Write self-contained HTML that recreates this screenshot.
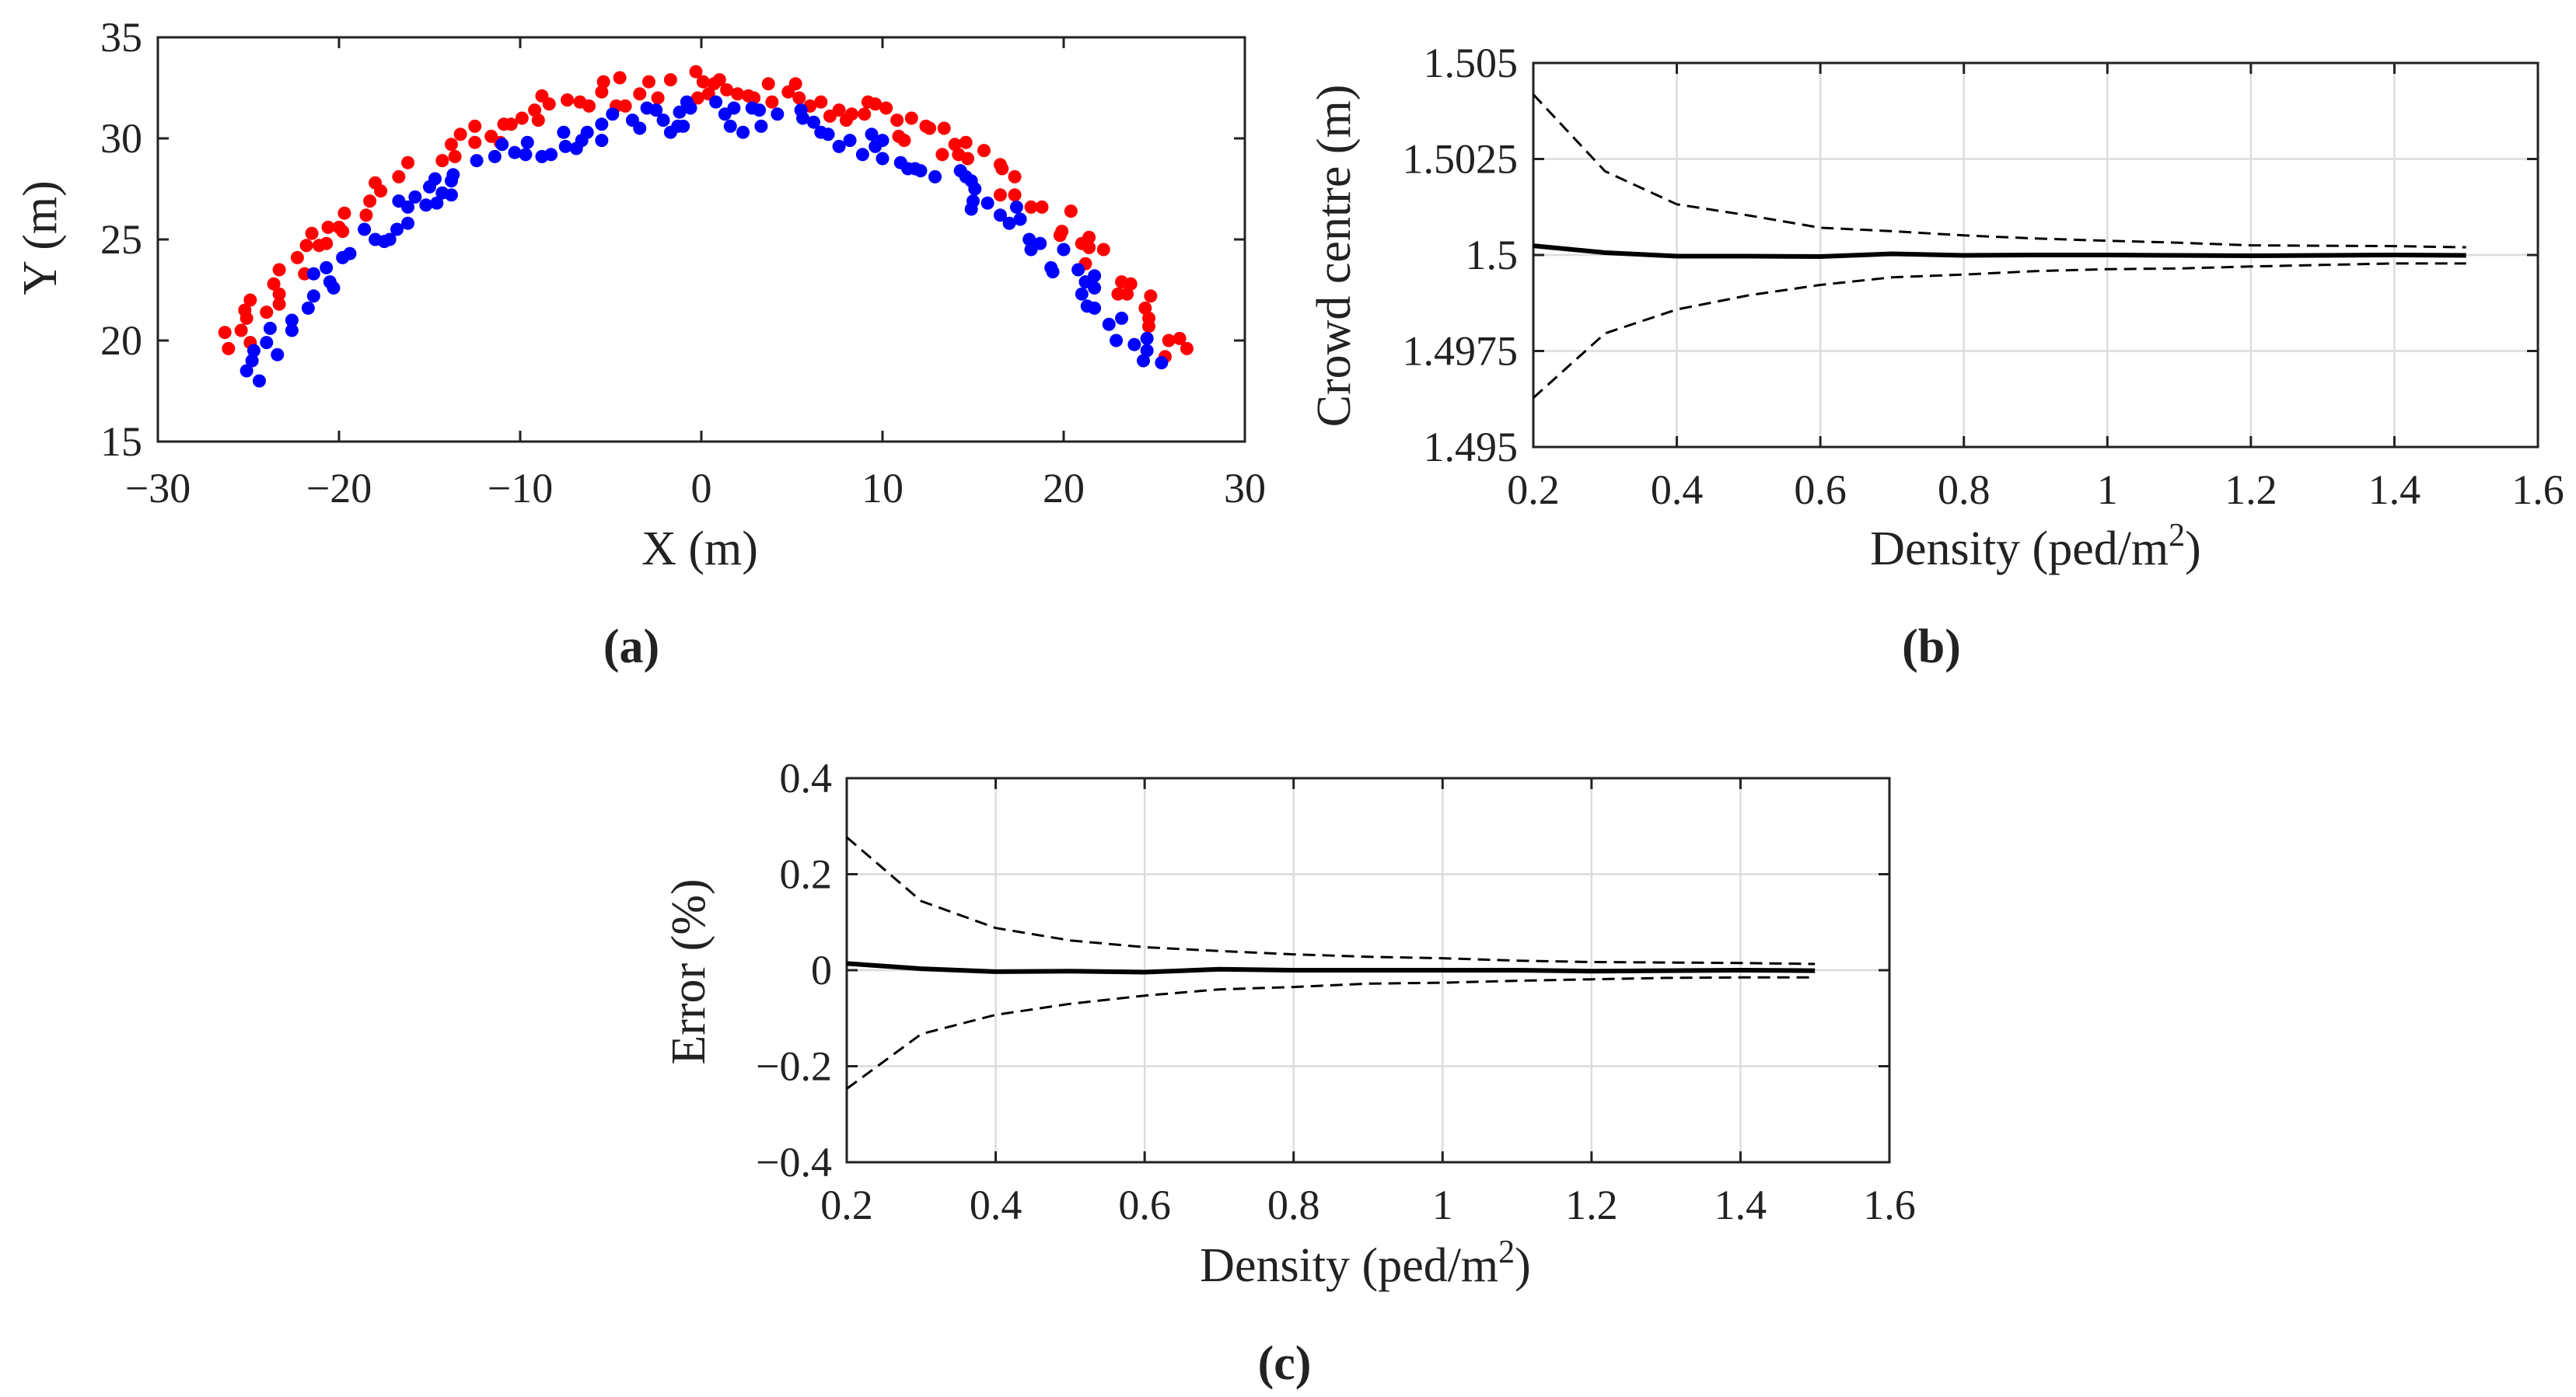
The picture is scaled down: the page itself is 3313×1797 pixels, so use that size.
<!DOCTYPE html>
<html><head><meta charset="utf-8"><style>
html,body{margin:0;padding:0;background:#fff;}
svg{display:block;}
svg text{font-family:"Liberation Serif","DejaVu Serif",serif;fill:#222;}
</style></head><body>
<svg id="fig" width="3313" height="1797" viewBox="0 0 3313 1797" xmlns="http://www.w3.org/2000/svg" font-family="Liberation Serif, DejaVu Serif, serif"></svg>
<script>
// ---- Panel (a) data ----
const redX=[-26.3,-26.1,-25.4,-25.2,-25.1,-24.9,-24.9,-24.0,-23.6,-23.3,-23.3,-23.3,-22.3,-21.9,-21.8,-21.5,-21.1,-20.7,-20.6,-20.0,-19.8,-19.7,-18.5,-18.3,-18.0,-17.7,-16.7,-16.2,-14.3,-13.8,-13.6,-13.3,-12.5,-12.5,-11.6,-11.1,-10.9,-10.5,-9.9,-9.2,-9.0,-8.8,-8.4,-7.4,-6.7,-6.2,-5.5,-5.4,-4.7,-4.5,-4.2,-3.4,-2.9,-2.4,-1.7,-0.3,-0.2,0.1,0.4,0.7,1.0,1.4,2.0,2.6,2.9,3.7,3.9,4.8,5.2,5.4,6.0,6.6,7.1,7.6,8.0,8.3,9.0,9.2,9.6,10.2,10.8,10.9,11.2,11.6,12.4,12.6,13.4,13.3,14.0,14.2,14.6,14.7,15.6,16.5,16.6,16.5,17.3,17.3,18.2,18.8,19.8,19.9,20.4,21.0,21.2,21.4,21.4,22.2,23.2,23.0,23.7,23.5,24.5,24.8,24.7,24.7,25.6,25.8,26.4,26.8];
const redY=[20.4,19.6,20.5,21.5,21.1,22.0,19.9,21.4,22.8,22.3,21.8,23.5,24.1,23.3,24.7,25.3,24.7,24.8,25.6,25.6,25.4,26.3,26.2,26.9,27.8,27.4,28.1,28.8,28.9,29.7,29.1,30.2,29.8,30.6,30.1,29.8,30.7,30.7,31.0,31.4,30.9,32.1,31.7,31.9,31.8,31.6,32.3,32.8,31.6,33.0,31.6,32.2,32.8,32.0,32.9,33.3,32.0,32.8,32.2,32.7,32.9,32.4,32.2,32.1,32.0,32.7,31.8,32.3,32.7,32.0,31.6,31.8,31.1,31.4,30.9,31.2,31.2,31.8,31.7,31.5,30.9,30.1,29.9,31.0,30.6,30.5,30.5,29.2,29.7,29.2,29.8,29.0,29.4,28.7,28.5,27.2,28.1,27.2,26.6,26.6,25.2,25.4,26.4,24.8,23.8,25.1,24.6,24.5,22.9,22.3,22.8,22.3,21.6,22.2,21.1,20.7,19.2,20.0,20.1,19.6];
const blueX=[-25.1,-24.8,-24.7,-24.4,-24.0,-23.8,-23.4,-22.6,-22.6,-21.7,-21.4,-21.4,-20.7,-20.5,-20.3,-19.8,-19.4,-18.6,-18.0,-17.5,-17.2,-16.8,-16.7,-16.2,-16.2,-15.8,-15.2,-15.0,-14.7,-14.6,-14.3,-13.8,-13.8,-13.7,-12.4,-11.4,-11.0,-10.3,-9.7,-9.6,-8.8,-8.3,-7.6,-7.5,-6.9,-6.6,-6.3,-5.5,-5.5,-4.9,-3.8,-3.4,-3.0,-2.5,-2.1,-1.7,-1.3,-1.0,-1.2,-0.8,-0.6,0.8,1.3,1.6,1.8,2.3,2.8,3.2,3.3,4.2,5.5,5.6,6.2,6.6,7.0,7.6,8.2,8.9,9.4,9.6,10.0,10.0,11.0,11.4,11.8,12.1,12.9,14.3,14.6,14.9,15.1,15.0,14.9,15.8,16.5,17.0,17.4,17.6,18.1,18.2,18.7,19.3,19.4,20.0,20.8,21.2,21.0,21.3,21.7,21.7,21.7,22.5,22.9,23.2,23.9,24.4,24.6,24.6,25.4];
const blueY=[18.5,19.0,19.5,18.0,19.9,20.6,19.3,21.0,20.5,21.6,23.3,22.2,23.6,22.9,22.6,24.1,24.3,25.5,25.0,24.9,25.0,25.5,26.9,26.6,25.8,27.1,26.7,27.6,28.0,26.8,27.3,27.2,27.9,28.2,28.9,29.1,29.7,29.3,29.2,29.8,29.1,29.2,30.3,29.6,29.5,29.9,30.3,29.9,30.7,31.2,30.9,30.5,31.5,31.4,30.9,30.3,30.6,30.6,31.3,31.8,31.5,31.8,31.2,30.6,31.5,30.3,31.5,31.4,30.6,31.2,31.4,31.0,30.8,30.3,30.2,29.6,29.9,29.2,30.2,29.6,29.9,29.0,28.8,28.5,28.5,28.4,28.1,28.4,28.1,27.9,27.5,26.9,26.5,26.8,26.2,25.8,26.6,26.0,25.0,24.5,24.8,23.6,23.4,24.5,23.5,22.9,22.3,21.7,23.2,22.6,21.6,20.8,20.0,21.1,19.8,19.0,20.1,19.5,18.9];
const xTicksA=[-30,-20,-10,0,10,20,30];
const yTicksA=[15,20,25,30,35];
// ---- Panel (b) data ----
const density=[0.2,0.3,0.4,0.5,0.6,0.7,0.8,0.9,1.0,1.1,1.2,1.3,1.4,1.5];
const centreMean=[1.50024,1.50006,1.49997,1.49997,1.49996,1.50003,1.49999,1.5,1.5,1.49999,1.49998,1.49999,1.5,1.49999];
const centreUpper=[1.50418,1.50218,1.50132,1.50103,1.50071,1.50062,1.50051,1.50043,1.50037,1.50032,1.50025,1.50024,1.50023,1.5002];
const centreLower=[1.49628,1.49796,1.49858,1.49895,1.49922,1.49942,1.49949,1.49958,1.49963,1.49965,1.4997,1.49974,1.49978,1.49978];
const xTicksB=[0.2,0.4,0.6,0.8,1,1.2,1.4,1.6];
const yTicksB=[1.495,1.4975,1.5,1.5025,1.505];
const yTickLabelsB=["1.495","1.4975","1.5","1.5025","1.505"];
// ---- Panel (c) data ----
const errMean=[0.014,0.003,-0.003,-0.002,-0.004,0.002,0.0,0.0,0.0,0.0,-0.002,-0.001,0.0,-0.001];
const errUpper=[0.277,0.144,0.088,0.062,0.048,0.040,0.033,0.028,0.025,0.020,0.017,0.016,0.015,0.013];
const errLower=[-0.247,-0.133,-0.093,-0.070,-0.053,-0.040,-0.035,-0.028,-0.026,-0.022,-0.019,-0.016,-0.015,-0.015];
const yTicksC=[-0.4,-0.2,0,0.2,0.4];
const yTickLabelsC=["\u22120.4","\u22120.2","0","0.2","0.4"];

const NS="http://www.w3.org/2000/svg";
const svg=document.getElementById('fig');
const FF="Liberation Serif, DejaVu Serif, serif";
function mk(tag,attrs,parent){const e=document.createElementNS(NS,tag);for(const k in attrs)e.setAttribute(k,attrs[k]);(parent||svg).appendChild(e);return e;}
function fmt(v){return v<0?"\u2212"+Math.abs(v):String(v);}

function axes(o){
  const g=mk('g',{'font-family':FF});
  
  
  const sx=v=>o.L+(v-o.x0)/(o.x1-o.x0)*(o.R-o.L);
  const sy=v=>o.B-(v-o.y0)/(o.y1-o.y0)*(o.B-o.T);
  if(o.grid){
    o.xt.forEach(v=>{const l=mk('line',{x1:sx(v),x2:sx(v),y1:o.T,y2:o.B,stroke:'#dcdcdc','stroke-width':2.5},g);});
    o.yt.forEach(v=>{const l=mk('line',{x1:o.L,x2:o.R,y1:sy(v),y2:sy(v),stroke:'#dcdcdc','stroke-width':2.5},g);});
  }
  const tl=14;
  o.xt.forEach(v=>{
    mk('line',{x1:sx(v),x2:sx(v),y1:o.B,y2:o.B-tl,stroke:'#222','stroke-width':3},g);
    mk('line',{x1:sx(v),x2:sx(v),y1:o.T,y2:o.T+tl,stroke:'#222','stroke-width':3},g);
    const t=mk('text',{x:sx(v),y:o.xtY,'font-size':54,'text-anchor':'middle','font-family':FF},g);
    t.textContent=o.xl?o.xl(v):fmt(v);
    
    
  });
  o.yt.forEach((v,i)=>{
    mk('line',{x1:o.L,x2:o.L+tl,y1:sy(v),y2:sy(v),stroke:'#222','stroke-width':3},g);
    mk('line',{x1:o.R,x2:o.R-tl,y1:sy(v),y2:sy(v),stroke:'#222','stroke-width':3},g);
    const t=mk('text',{x:o.ytX,y:sy(v)+18,'font-size':54,'text-anchor':'end','font-family':FF},g);
    t.textContent=o.yl?o.yl[i]:fmt(v);
    
    
  });
  const f=mk('rect',{x:o.L,y:o.T,width:o.R-o.L,height:o.B-o.T,fill:'none',stroke:'#222','stroke-width':3},g);
  
  
  const xlab=mk('text',{x:o.xlabX,y:o.xlabY,'font-size':62,'text-anchor':'middle','font-family':FF},g);
  xlab.innerHTML=o.xlab;
  
  
  const ylab=mk('text',{x:0,y:0,'font-size':62,'text-anchor':'middle','font-family':FF,transform:`translate(${o.ylabX},${o.ylabY}) rotate(-90)`},g);
  ylab.textContent=o.ylab;
  
  
  const cap=mk('text',{x:o.capX,y:o.capY,'font-size':62,'font-weight':'bold','text-anchor':'middle','font-family':FF},g);
  cap.textContent=o.cap;
  
  
  return {g,sx,sy};
}
function line(ax,xs,ys,dash,w,name){
  const d=xs.map((x,i)=>(i?'L':'M')+ax.sx(x).toFixed(1)+','+ax.sy(ys[i]).toFixed(1)).join('');
  const p=mk('path',{d,fill:'none',stroke:'#000','stroke-width':w,'stroke-dasharray':dash||'none','stroke-linejoin':'round'},ax.g);
  
  
}

const A=axes({name:'panel-a-scatter',L:203,R:1601,T:48,B:568,x0:-30,x1:30,y0:15,y1:35,xt:xTicksA,yt:yTicksA,xtY:646,ytX:183,
  xlab:'X (m)',xlabX:900,xlabY:726,ylab:'Y (m)',ylabX:72,ylabY:306,cap:'(a)',capX:812,capY:852,grid:false});
redX.forEach((x,i)=>{const c=mk('circle',{cx:A.sx(x),cy:A.sy(redY[i]),r:8.5,fill:'#ff0000'},A.g);
  
  });
blueX.forEach((x,i)=>{const c=mk('circle',{cx:A.sx(x),cy:A.sy(blueY[i]),r:8.5,fill:'#0000ff'},A.g);
  
  });

const B=axes({name:'panel-b-crowd-centre',L:1972,R:3264,T:81,B:575,x0:0.2,x1:1.6,y0:1.495,y1:1.505,xt:xTicksB,yt:yTicksB,yl:yTickLabelsB,xtY:648,ytX:1952,
  xlab:'Density (ped/m<tspan font-size="42" dy="-24">2</tspan><tspan dy="24">)</tspan>',xlabX:2618,xlabY:726,ylab:'Crowd centre (m)',ylabX:1736,ylabY:329,cap:'(b)',capX:2484,capY:852,grid:true});
line(B,density,centreUpper,'16,9',3,'upper-bound-line');
line(B,density,centreLower,'16,9',3,'lower-bound-line');
line(B,density,centreMean,null,6,'mean-line');

const C=axes({name:'panel-c-error',L:1089,R:2430,T:1001,B:1495,x0:0.2,x1:1.6,y0:-0.4,y1:0.4,xt:xTicksB,yt:yTicksC,yl:yTickLabelsC,xtY:1568,ytX:1070,
  xlab:'Density (ped/m<tspan font-size="42" dy="-24">2</tspan><tspan dy="24">)</tspan>',xlabX:1756,xlabY:1648,ylab:'Error (%)',ylabX:906,ylabY:1250,cap:'(c)',capX:1652,capY:1774,grid:true});
line(C,density,errUpper,'16,9',3,'upper-bound-line');
line(C,density,errLower,'16,9',3,'lower-bound-line');
line(C,density,errMean,null,6,'mean-line');
</script>
</body></html>
